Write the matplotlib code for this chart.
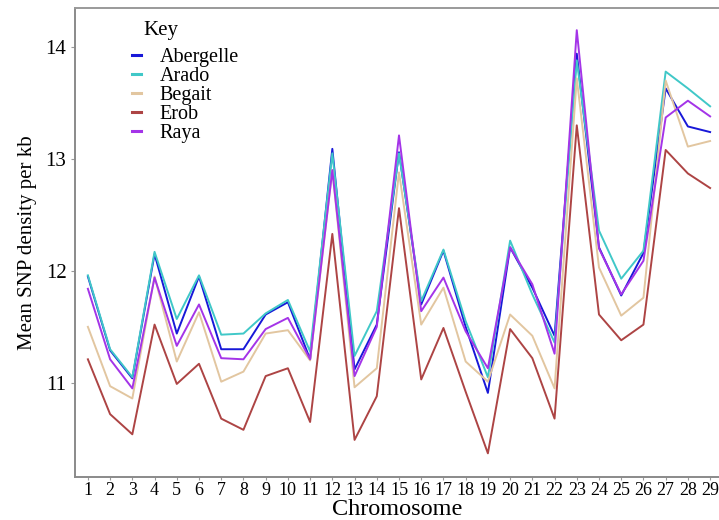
import matplotlib.pyplot as plt

plt.rcParams['font.family'] = ['Liberation Serif', 'DejaVu Serif']

chromosomes = list(range(1, 30))

abergelle = [11.95, 11.29, 11.04, 12.15, 11.44, 11.95, 11.30, 11.30, 11.61, 11.72,
             11.21, 13.09, 11.12, 11.52, 13.06, 11.70, 12.18, 11.50, 10.91, 12.21,
             11.85, 11.42, 13.94, 12.21, 11.78, 12.16, 13.63, 13.29, 13.24]
arado = [11.96, 11.30, 11.05, 12.17, 11.57, 11.96, 11.43, 11.44, 11.62, 11.74,
         11.28, 13.05, 11.24, 11.64, 13.05, 11.73, 12.19, 11.55, 11.05, 12.27,
         11.79, 11.36, 13.88, 12.36, 11.93, 12.18, 13.78, 13.63, 13.47]
begait = [11.50, 10.97, 10.86, 11.95, 11.19, 11.63, 11.01, 11.10, 11.44, 11.47,
          11.20, 12.90, 10.96, 11.13, 12.88, 11.52, 11.85, 11.19, 11.01, 11.61,
          11.42, 10.95, 13.72, 12.03, 11.60, 11.76, 13.70, 13.11, 13.16]
erob = [11.21, 10.72, 10.54, 11.52, 10.99, 11.17, 10.68, 10.58, 11.06, 11.13,
        10.65, 12.33, 10.49, 10.88, 12.56, 11.03, 11.49, 10.92, 10.37, 11.48,
        11.22, 10.68, 13.30, 11.61, 11.38, 11.52, 13.08, 12.87, 12.74]
raya = [11.84, 11.21, 10.95, 11.94, 11.33, 11.70, 11.22, 11.21, 11.48, 11.58,
        11.21, 12.90, 11.06, 11.50, 13.21, 11.64, 11.94, 11.46, 11.13, 12.21,
        11.88, 11.26, 14.15, 12.20, 11.79, 12.09, 13.37, 13.52, 13.38]

series = [
    ("Abergelle", abergelle, "#1818d8"),
    ("Arado", arado, "#40c8c8"),
    ("Begait", begait, "#e2c6a0"),
    ("Erob", erob, "#ad4444"),
    ("Raya", raya, "#a434e8"),
]

fig = plt.figure(figsize=(7.19, 5.2), dpi=100)
ax = fig.add_axes([0.104, 0.083, 0.896, 0.902])

for name, vals, col in series:
    ax.plot(chromosomes, vals, color=col, lw=1.4, label=name)

ax.set_xlim(0.41, 29.4)
ax.set_ylim(10.16, 14.35)
ax.set_xticks(chromosomes)
ax.set_yticks([11, 12, 13, 14])
ax.tick_params(axis='x', labelsize=13, length=2, pad=2, color='#999999')
ax.tick_params(axis='y', labelsize=15, length=3, pad=3, color='#999999')

for side in ['left', 'bottom']:
    ax.spines[side].set_color('#8a8a8a')
    ax.spines[side].set_linewidth(1.4)
ax.spines['top'].set_color('#9a9a9a')
ax.spines['top'].set_linewidth(1.4)
ax.spines['right'].set_visible(False)

ax.set_xlabel("Chromosome", fontsize=17.5, labelpad=0)
ax.set_ylabel("Mean SNP density per kb", fontsize=15, labelpad=6)

# legend title drawn separately so its gap to the entries can be set freely
ax.text(0.107, 0.951, "Key", transform=ax.transAxes, fontsize=15,
        ha='left', va='center')
leg = ax.legend(loc='upper left', bbox_to_anchor=(0.089, 0.915),
                frameon=False, fontsize=14.5,
                handlelength=0.45, handletextpad=0.9, labelspacing=0.0,
                borderaxespad=0.0, borderpad=0.0)
for line in leg.get_lines():
    line.set_linewidth(2.2)

fig.savefig("out.png", dpi=100)
